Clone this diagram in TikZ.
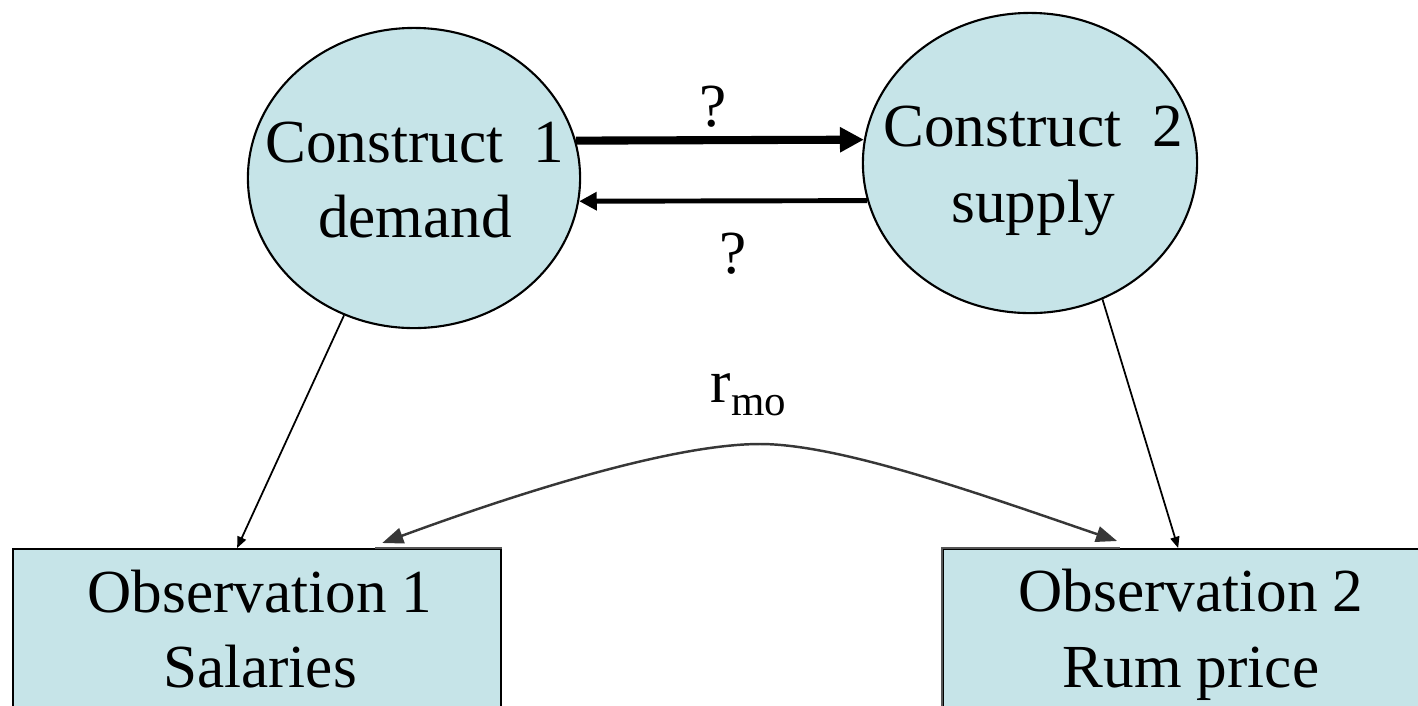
\documentclass[tikz,border=0pt]{standalone}
\usepackage{fontspec}
\setmainfont{LiberationSerif-Regular.ttf}
\usetikzlibrary{shapes.geometric,arrows.meta}
\definecolor{fillblue}{RGB}{198,228,232}
\definecolor{curvegray}{RGB}{55,55,55}
\definecolor{edgegray}{RGB}{85,85,85}
\begin{document}
\begin{tikzpicture}[x=0.01cm,y=-0.01cm,
  cons/.style={ellipse,draw=black,line width=0.6pt,fill=fillblue,inner sep=0pt},
  obs/.style={rectangle,draw=black,line width=0.6pt,fill=fillblue,inner sep=0pt,anchor=north west},
  txt/.style={align=center,font=\fontsize{17.4}{21.5}\selectfont,inner sep=0pt},
  link/.style={line width=0.5pt,-{Triangle[length=3.2pt,width=2.6pt]}},
  thick arrow/.style={line width=2.3pt,-{Triangle[length=6.8pt,width=6.8pt]}},
  mid arrow/.style={line width=1.4pt,-{Triangle[length=5pt,width=5pt]}},
  corr/.style={line width=0.7pt,draw=curvegray,{Triangle[length=6pt,width=4.5pt]}-{Triangle[length=6pt,width=4.5pt]}}]
\useasboundingbox (0,0) rectangle (1418,705);
\clip (0,0) rectangle (1418,705);

% constructs
\node[cons,minimum width=3.32cm,minimum height=3.0cm] (c1) at (414,178) {};
\node[cons,minimum width=3.34cm,minimum height=3.0cm] (c2) at (1030,163) {};
\node[txt] (t1) at (415,180) {Construct\ \ 1\\demand};
\node[txt] (t2) at (1033,171) {Construct\ \ 2\\supply};

% observations
\node[obs,minimum width=4.88cm,minimum height=2.0cm] (o1) at (12,548) {};
\node[obs,minimum width=5.0cm,minimum height=2.0cm] (o2) at (942,548) {};
\node[txt] (t3) at (260,629) {Observation 1\\Salaries};
\node[txt] (t4) at (1191,635) {Observation 2\\Rum price};

% attachment points on the box tops
\coordinate (o1a) at ([xshift=2.25cm]o1.north west);
\coordinate (o1b) at ([xshift=3.70cm,yshift=0.05cm]o1.north west);
\coordinate (o1g) at ([xshift=3.63cm]o1.north west);
\coordinate (o2a) at ([xshift=2.36cm]o2.north west);
\coordinate (o2b) at ([xshift=1.75cm,yshift=0.07cm]o2.north west);
\coordinate (o2g) at ([xshift=1.78cm]o2.north west);
\coordinate (peak) at (760,444);

% gray parts of the box borders
\draw[line width=0.6pt,draw=edgegray] (o1g) -- (o1.north east);
\draw[line width=0.6pt,draw=edgegray] (o2.south west) -- (o2.north west) -- (o2g);

% construct arrows
\draw[thick arrow] (c1.13) -- (c2.172);
\draw[mid arrow] (c2.193) -- (c1.352);
\node[txt,anchor=base] (q1) at (713,126) {?};
\node[txt,anchor=base] (q2) at (733,273) {?};

% measurement links
\draw[link] (c1.243) -- (o1a);
\draw[link] (c2.298) -- (o2a);

% correlation
\draw[corr] (o1b) .. controls (540,485) and (680,444) .. (peak)
                  .. controls (840,444) and (980,494) .. (o2b);
\node[txt,anchor=base west] (r) at (710,402) {r\raisebox{-3.7pt}{\fontsize{12.2}{12.2}\selectfont mo}};
\end{tikzpicture}
\end{document}
